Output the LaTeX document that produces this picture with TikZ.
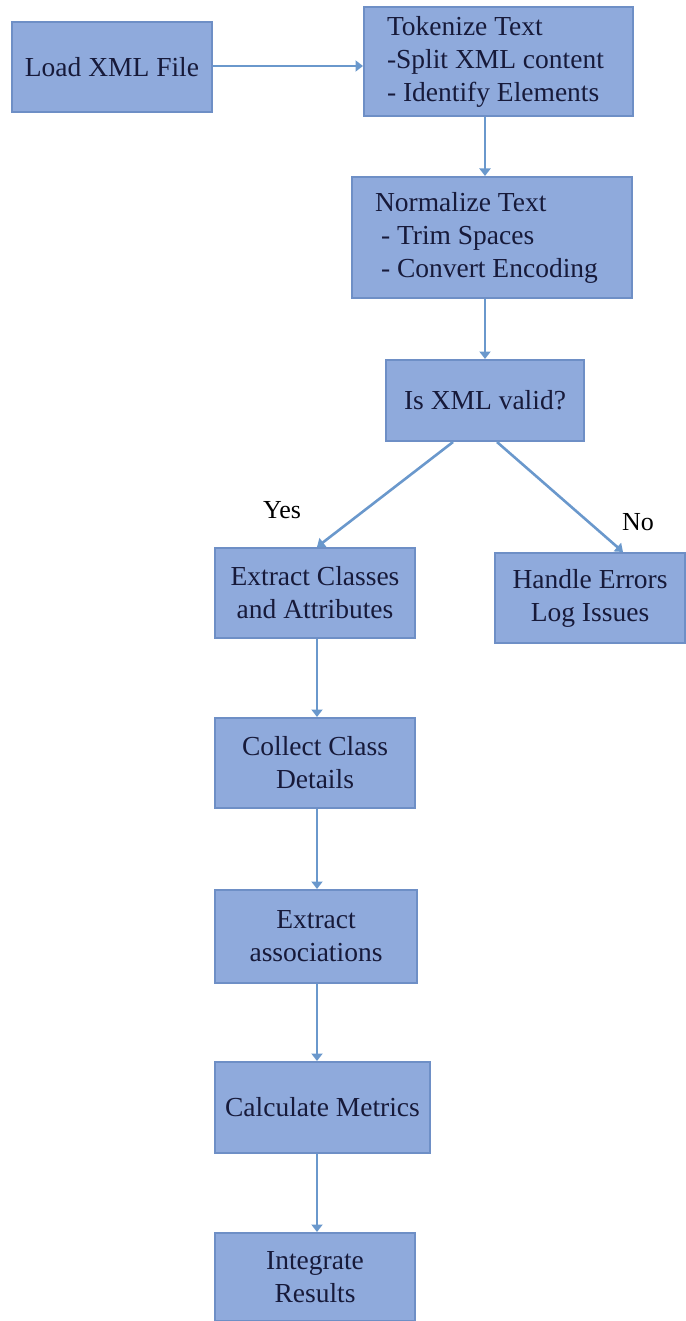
\documentclass[tikz,border=0pt]{standalone}
\usepackage{fontspec}
\setmainfont{Liberation Serif}
\usetikzlibrary{arrows.meta,calc}
\definecolor{boxfill}{HTML}{8FAADC}
\definecolor{boxdraw}{HTML}{6E8FC6}
\definecolor{arrowc}{HTML}{6A98CC}
\definecolor{txt}{HTML}{171A3A}
\tikzset{
  box/.style={draw=boxdraw, line width=2pt, fill=boxfill, rectangle,
    text=txt, font=\fontsize{27.5}{33}\selectfont, align=center, inner sep=0pt},
  conn/.style={draw=arrowc, line width=2.6pt, -{Triangle[width=11pt,length=7.5pt]}},
  lab/.style={text=black, font=\fontsize{26}{30}\selectfont}
}
\newcommand{\leftblock}[2]{\makebox[#1][l]{\begin{tabular}{@{}l@{}}#2\end{tabular}}}
\begin{document}
\begin{tikzpicture}[x=1pt,y=-1pt]
\useasboundingbox (0,0) rectangle (685,1321);
\node[box, minimum width=200pt, minimum height=90pt] (load) at (112,67) {Load XML File};
\node[box, minimum width=269pt, minimum height=109pt] (tok) at (498.5,61.5) {\leftblock{223pt}{Tokenize Text\\-Split XML content\\- Identify Elements}};
\node[box, minimum width=280pt, minimum height=121pt] (norm) at (492,237.5) {\leftblock{234pt}{Normalize Text\\\hspace*{6pt}- Trim Spaces\\\hspace*{6pt}- Convert Encoding}};
\node[box, minimum width=198pt, minimum height=81pt] (isv) at (485,400.5) {Is XML valid?};
\node[box, minimum width=200pt, minimum height=90pt] (ext) at (315,593) {Extract Classes\\and Attributes};
\node[box, minimum width=190pt, minimum height=90pt] (hand) at (590,598) {Handle Errors\\Log Issues};
\node[box, minimum width=200pt, minimum height=90pt] (coll) at (315,763) {Collect Class\\Details};
\node[box, minimum width=202pt, minimum height=93pt] (assoc) at (316,936.5) {Extract\\associations};
\node[box, minimum width=215pt, minimum height=91pt] (calc) at (322.5,1107.5) {Calculate Metrics};
\node[box, minimum width=200pt, minimum height=88pt] (integ) at (315,1277) {Integrate\\Results};
\node[lab] (yes) at (282,510) {Yes};
\node[lab] (no) at (638,522) {No};
\draw[conn] ($(load.east)+(0,-1)$) -- ($(load.east -| tok.west)+(0,-1)$);
\draw[conn] (tok.south -| isv.north) -- (norm.north -| isv.north);
\draw[conn] (norm.south -| isv.north) -- (isv.north);
\draw[conn] ($(isv.south)+(-32,0)$) -- ($(ext.north)+(2,0)$);
\draw[conn] ($(isv.south)+(12,0)$) -- ($(hand.north)+(33,0)$);
\draw[conn] ($(ext.south)+(2,0)$) -- ($(coll.north)+(2,0)$);
\draw[conn] ($(coll.south)+(2,0)$) -- ($(assoc.north -| coll.north)+(2,0)$);
\draw[conn] ($(assoc.south -| coll.south)+(2,0)$) -- ($(calc.north -| coll.north)+(2,0)$);
\draw[conn] ($(calc.south -| coll.south)+(2,0)$) -- ($(integ.north)+(2,0)$);
\end{tikzpicture}
\end{document}
